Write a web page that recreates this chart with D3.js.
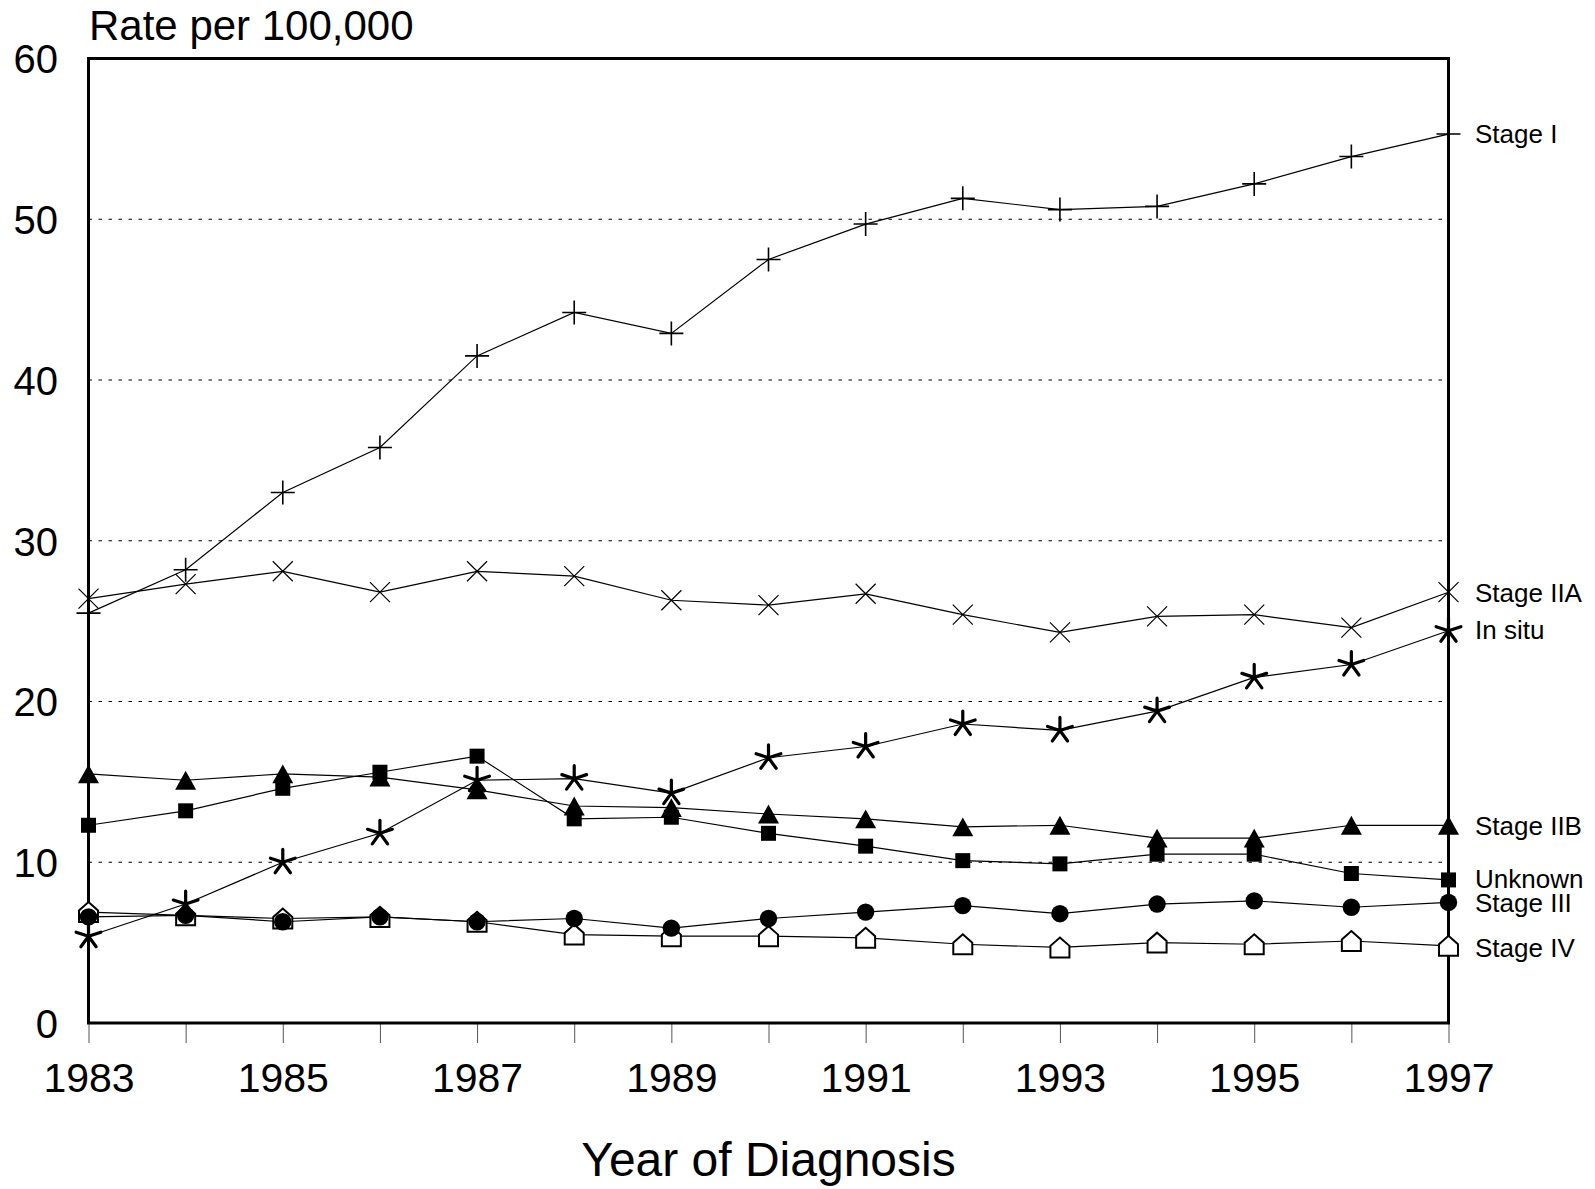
<!DOCTYPE html>
<html>
<head>
<meta charset="utf-8">
<script src="https://cdn.jsdelivr.net/npm/d3@7"></script>
<style>
  html, body { margin: 0; padding: 0; background: #fff; }
  svg { display: block; }
  text { font-family: "Liberation Sans", Arial, Helvetica, sans-serif; fill: #000; }
</style>
</head>
<body>
<svg id="chart" width="1595" height="1189"></svg>
<script>
// ---------------- data ----------------
const years = [1983,1984,1985,1986,1987,1988,1989,1990,1991,1992,1993,1994,1995,1996,1997];
const yTicks = [0,10,20,30,40,50,60];
const gridValues = [10,20,30,40,50];
const xTickLabels = [1983,1985,1987,1989,1991,1993,1995,1997];

const stageI   = [25.5,28.2,33.0,35.8,41.5,44.2,42.9,47.5,49.7,51.3,50.6,50.8,52.2,53.9,55.3];
const stageIIA = [26.4,27.3,28.1,26.8,28.1,27.8,26.3,26.0,26.7,25.4,24.3,25.3,25.4,24.6,26.8];
const inSitu   = [5.4,7.4,10.0,11.8,15.1,15.2,14.3,16.5,17.2,18.6,18.2,19.4,21.5,22.3,24.4];
const stageIIB = [15.5,15.1,15.5,15.3,14.5,13.5,13.4,13.0,12.7,12.2,12.3,11.5,11.5,12.3,12.3];
const unknown  = [12.3,13.2,14.6,15.6,16.6,12.7,12.8,11.8,11.0,10.1,9.9,10.5,10.5,9.3,8.9];
const stageIII = [6.6,6.7,6.3,6.6,6.3,6.5,5.9,6.5,6.9,7.3,6.8,7.4,7.6,7.2,7.5];
const stageIV  = [6.9,6.7,6.5,6.6,6.3,5.5,5.4,5.4,5.3,4.9,4.7,5.0,4.9,5.1,4.8];

const seriesNames = ["Stage I","Stage IIA","In situ","Stage IIB","Unknown","Stage III","Stage IV"];
const seriesValues = [stageI, stageIIA, inSitu, stageIIB, unknown, stageIII, stageIV];
const seriesMarkers = ["plus","cross","asterisk","triangle","square","circle","house"];
// label vertical positions (data units) for the right-hand labels
const labelValues = [55.3, 26.8, 24.5, 12.3, 9.0, 7.5, 4.7];

// ---------------- layout ----------------
const svg = d3.select("#chart");
const x = d3.scaleLinear().domain([1983,1997]).range([88.5,1448.5]);
const y = d3.scaleLinear().domain([0,60]).range([1023,58.5]);

// grid lines
svg.append("g").selectAll("line").data(gridValues).join("line")
  .attr("x1", x(1983)).attr("x2", x(1997))
  .attr("y1", d => y(d)).attr("y2", d => y(d))
  .attr("stroke", "#000").attr("stroke-width", 1)
  .attr("stroke-dasharray", "3.5,6.5");

// x axis ticks + labels
const xAxis = d3.axisBottom(x)
  .tickValues(years)
  .tickSize(20)
  .tickFormat(d => xTickLabels.includes(d) ? String(d) : "");
const gx = svg.append("g").attr("transform", `translate(0,${y(0)})`).call(xAxis);
gx.select(".domain").remove();
gx.selectAll(".tick line").attr("stroke", "#555").attr("stroke-width", 1);
gx.selectAll(".tick text")
  .attr("y", 0).attr("dy", null)
  .attr("transform", "translate(0,69)")
  .style("font-size", "41px")
  .style("font-family", "'Liberation Sans', Arial, sans-serif")
  .attr("fill", "#000");

// y axis labels
const yAxis = d3.axisLeft(y).tickValues(yTicks).tickSize(0).tickPadding(0).tickFormat(d3.format("d"));
const gy = svg.append("g").attr("transform", `translate(58,0)`).call(yAxis);
gy.select(".domain").remove();
gy.selectAll(".tick text")
  .attr("x", 0).attr("dy", "0.36em")
  .style("font-size", "40px")
  .style("font-family", "'Liberation Sans', Arial, sans-serif")
  .attr("fill", "#000");

// frame
svg.append("rect")
  .attr("x", x(1983)).attr("y", y(60))
  .attr("width", x(1997) - x(1983)).attr("height", y(0) - y(60))
  .attr("fill", "none").attr("stroke", "#000").attr("stroke-width", 3);

// titles
svg.append("text").attr("x", 89).attr("y", 40)
  .style("font-size", "42px").text("Rate per 100,000");
svg.append("text").attr("x", (x(1983)+x(1997))/2).attr("y", 1176)
  .attr("text-anchor", "middle")
  .style("font-size", "48px").text("Year of Diagnosis");

// ---------------- lines ----------------
const line = d3.line().x((d,i) => x(years[i])).y(d => y(d));
svg.append("g").selectAll("path").data(seriesValues).join("path")
  .attr("d", d => line(d))
  .attr("fill", "none").attr("stroke", "#000").attr("stroke-width", 1.2);

// ---------------- markers ----------------
const asteriskSymbol = {
  draw(ctx, size) {
    const r = Math.sqrt(size);
    for (let k = 0; k < 5; k++) {
      const a = -Math.PI/2 + k * 2*Math.PI/5;
      ctx.moveTo(0, 0);
      ctx.lineTo(r*Math.cos(a), r*Math.sin(a));
    }
  }
};
const houseSymbol = {
  draw(ctx, size) {
    const w = Math.sqrt(size);
    const h = w * 1.05;
    const roof = h * 0.42;
    ctx.moveTo(-w/2, h/2);
    ctx.lineTo(w/2, h/2);
    ctx.lineTo(w/2, -h/2 + roof);
    ctx.lineTo(0, -h/2);
    ctx.lineTo(-w/2, -h/2 + roof);
    ctx.closePath();
  }
};
const plusSymbol = {
  draw(ctx, size) {
    const r = Math.sqrt(size)/2;
    ctx.moveTo(-r, 0); ctx.lineTo(r, 0);
    ctx.moveTo(0, -r); ctx.lineTo(0, r);
  }
};
const crossSymbol = {
  draw(ctx, size) {
    const r = Math.sqrt(size)/2;
    ctx.moveTo(-r, -r); ctx.lineTo(r, r);
    ctx.moveTo(-r, r); ctx.lineTo(r, -r);
  }
};
const triangleSymbol = {
  draw(ctx, size) {
    const w = Math.sqrt(size);
    const h = w * 0.9;
    ctx.moveTo(0, -h/2);
    ctx.lineTo(w/2, h/2);
    ctx.lineTo(-w/2, h/2);
    ctx.closePath();
  }
};
const squareSymbol = {
  draw(ctx, size) {
    const w = Math.sqrt(size);
    ctx.rect(-w/2, -w/2, w, w);
  }
};

const markerStyle = {
  plus:     {type: plusSymbol,     size: 24*24, fill: "none", stroke: "#000", sw: 1.6},
  cross:    {type: crossSymbol,    size: 20*20, fill: "none", stroke: "#000", sw: 1.2},
  asterisk: {type: asteriskSymbol, size: 13*13, fill: "none", stroke: "#000", sw: 3.2},
  triangle: {type: triangleSymbol, size: 21*21, fill: "#000", stroke: "none", sw: 0},
  square:   {type: squareSymbol,   size: 15*15, fill: "#000", stroke: "none", sw: 0},
  circle:   {type: d3.symbolCircle, size: Math.PI*8.7*8.7, fill: "#000", stroke: "none", sw: 0},
  house:    {type: houseSymbol,    size: 19*19, fill: "#fff", stroke: "#000", sw: 2}
};

const drawOrder = [6, 0, 1, 3, 4, 5, 2];
drawOrder.forEach(si => {
  const st = markerStyle[seriesMarkers[si]];
  const sym = d3.symbol().type(st.type).size(st.size);
  svg.append("g").selectAll("path").data(seriesValues[si]).join("path")
    .attr("transform", (d,i) => `translate(${x(years[i])},${y(d)})`)
    .attr("d", sym)
    .attr("fill", st.fill)
    .attr("stroke", st.stroke)
    .attr("stroke-width", st.sw)
    .attr("stroke-linecap", seriesMarkers[si] === "asterisk" ? "round" : "butt");
});

// right-hand labels
svg.append("g").selectAll("text").data(seriesNames).join("text")
  .attr("x", 1475)
  .attr("y", (d,i) => y(labelValues[i]))
  .attr("dy", "0.36em")
  .style("font-size", "26px")
  .text(d => d);
</script>
</body>
</html>
